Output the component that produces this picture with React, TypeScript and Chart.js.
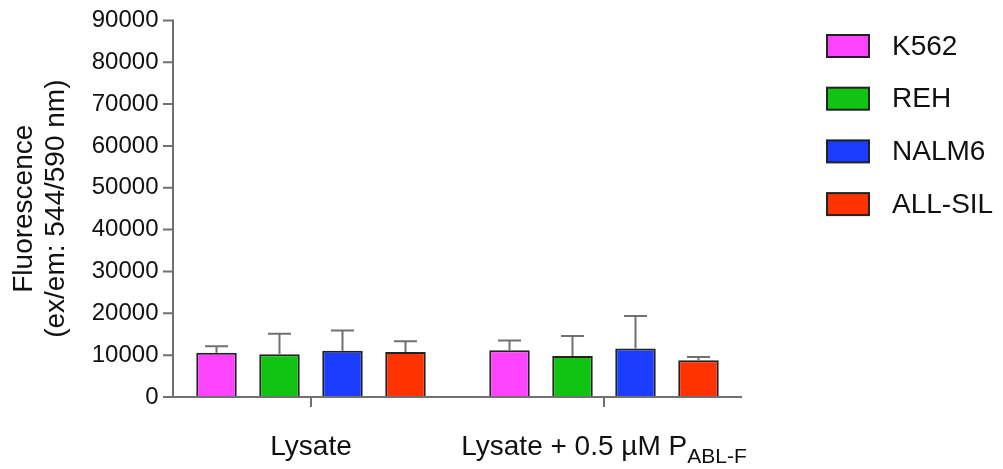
import React, { useEffect, useRef } from "react";
import { Chart, registerables } from "chart.js";

Chart.register(...registerables);

const FONT = "'Liberation Sans', Arial, Helvetica, sans-serif";

// ---- data ----
const categories = ["Lysate", "Lysate + 0.5 µM P"];
const categorySubscripts = ["", "ABL-F"];
const seriesNames = ["K562", "REH", "NALM6", "ALL-SIL"];
const k562Values = [10600, 11150];
const rehValues = [10200, 9800];
const nalm6Values = [11050, 11600];
const allsilValues = [10750, 8760];
const k562Errors = [1530, 2380];
const rehErrors = [4920, 4770];
const nalm6Errors = [4870, 7780];
const allsilErrors = [2550, 790];
const yTickMin = 0;
const yTickMax = 90000;
const yTickStep = 10000;
const yTitle = ["Fluorescence", "(ex/em: 544/590 nm)"];

const seriesValues = [k562Values, rehValues, nalm6Values, allsilValues];
const seriesErrors = [k562Errors, rehErrors, nalm6Errors, allsilErrors];
const seriesColors = ["#FF44FF", "#12C412", "#1A3DFF", "#FF3300"];

// ---- style ----
const AXIS_COLOR = "#707070";
const TEXT_COLOR = "#111111";
const BORDER_COLOR = "#222222";
const AXIS_INSET = 8.5;
const CAP = 23;

const overlay = {
  id: "overlay",
  afterDatasetsDraw(chart: any) {
    const ctx = chart.ctx as CanvasRenderingContext2D;
    const area = chart.chartArea;
    const xS = chart.scales.x;
    const yS = chart.scales.y;
    ctx.save();

    // error bars
    ctx.strokeStyle = AXIS_COLOR;
    ctx.lineWidth = 2;
    chart.data.datasets.forEach((_ds: any, di: number) => {
      const meta = chart.getDatasetMeta(di);
      meta.data.forEach((bar: any, i: number) => {
        const v = seriesValues[di][i];
        const e = seriesErrors[di][i];
        const yTop = yS.getPixelForValue(v);
        const yErr = yS.getPixelForValue(v + e);
        ctx.beginPath();
        ctx.moveTo(bar.x, yTop);
        ctx.lineTo(bar.x, yErr);
        ctx.moveTo(bar.x - CAP / 2, yErr);
        ctx.lineTo(bar.x + CAP / 2, yErr);
        ctx.stroke();
      });
    });

    // axes
    const axisX = area.left + AXIS_INSET;
    const axisRight = area.right - AXIS_INSET;
    const axisY = yS.getPixelForValue(yTickMin);
    const axisTop = yS.getPixelForValue(yTickMax);
    ctx.strokeStyle = AXIS_COLOR;
    ctx.lineWidth = 2;
    ctx.beginPath();
    ctx.moveTo(axisX, axisTop - 1);
    ctx.lineTo(axisX, axisY + 1);
    ctx.moveTo(axisX - 1, axisY);
    ctx.lineTo(axisRight, axisY);
    for (let v = yTickMin; v <= yTickMax; v += yTickStep) {
      const py = yS.getPixelForValue(v);
      ctx.moveTo(axisX - 10, py);
      ctx.lineTo(axisX, py);
    }
    categories.forEach((_c, i) => {
      const px = xS.getPixelForValue(i);
      ctx.moveTo(px, axisY);
      ctx.lineTo(px, axisY + 10);
    });
    ctx.stroke();

    // x labels with subscripts
    ctx.fillStyle = TEXT_COLOR;
    ctx.textBaseline = "alphabetic";
    ctx.textAlign = "left";
    categories.forEach((c, i) => {
      const px = xS.getPixelForValue(i);
      ctx.font = `28px ${FONT}`;
      const w1 = ctx.measureText(c).width;
      ctx.font = `21px ${FONT}`;
      const sub = categorySubscripts[i];
      const w2 = sub ? ctx.measureText(sub).width : 0;
      const start = px - (w1 + w2) / 2;
      ctx.font = `28px ${FONT}`;
      ctx.fillText(c, start, axisY + 58);
      if (sub) {
        ctx.font = `21px ${FONT}`;
        ctx.fillText(sub, start + w1, axisY + 66);
      }
    });

    // legend
    const LX = 827;
    const LY = 35;
    const LSTEP = 52.7;
    seriesNames.forEach((name, i) => {
      const y = LY + i * LSTEP;
      ctx.fillStyle = seriesColors[i];
      ctx.fillRect(LX, y, 42, 22);
      ctx.strokeStyle = BORDER_COLOR;
      ctx.lineWidth = 2;
      ctx.strokeRect(LX, y, 42, 22);
      ctx.fillStyle = TEXT_COLOR;
      ctx.font = `28px ${FONT}`;
      ctx.textBaseline = "middle";
      ctx.fillText(name, 892, y + 12);
    });

    ctx.restore();
  },
};

export default function App() {
  const ref = useRef<HTMLCanvasElement | null>(null);
  useEffect(() => {
    if (!ref.current) return;
    Chart.defaults.font.family = FONT;
    const chart = new Chart(ref.current, {
      type: "bar",
      data: {
        labels: categories,
        datasets: seriesNames.map((name, i) => ({
          label: name,
          data: seriesValues[i],
          backgroundColor: seriesColors[i],
          borderColor: BORDER_COLOR,
          borderWidth: 2,
          categoryPercentage: 0.86,
          barPercentage: 0.643,
        })),
      },
      options: {
        animation: false,
        responsive: true,
        maintainAspectRatio: false,
        layout: { padding: { top: 20, right: 252.5, left: 0, bottom: 0 } },
        plugins: { legend: { display: false }, tooltip: { enabled: false } },
        scales: {
          x: {
            type: "category",
            offset: true,
            grid: { display: false },
            border: { display: false },
            ticks: { display: false },
            afterFit: (s: any) => {
              s.height = 72;
            },
          },
          y: {
            min: yTickMin,
            max: yTickMax,
            ticks: {
              stepSize: yTickStep,
              color: TEXT_COLOR,
              font: { size: 24, family: FONT },
              padding: 6,
              callback: (v: any) => String(v),
            },
            grid: { drawOnChartArea: false, drawTicks: false },
            border: { display: false },
            title: {
              display: true,
              text: yTitle,
              color: TEXT_COLOR,
              font: { size: 28, family: FONT, lineHeight: 1.16 },
              padding: { top: 8, bottom: 0 },
            },
            afterFit: (s: any) => {
              s.width = 164.5;
            },
          },
        },
      },
      plugins: [overlay],
    });
    return () => chart.destroy();
  }, []);
  return (
    <div style={{ position: "fixed", left: 0, top: 0, width: 1003, height: 469, background: "#fff" }}>
      <canvas ref={ref} />
    </div>
  );
}
